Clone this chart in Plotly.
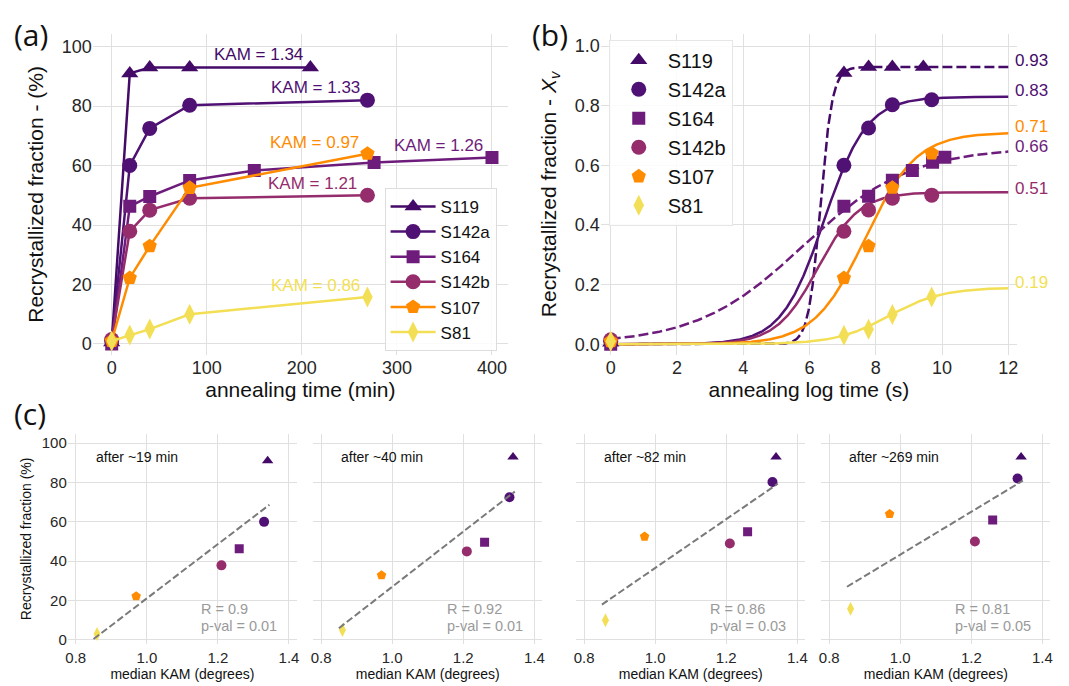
import numpy as np
import plotly.graph_objects as go

# ---------------- data ----------------
SAMPLES = ["S119", "S142a", "S164", "S142b", "S107", "S81"]
COLORS = ["#440a68", "#4f1173", "#6e1c7c", "#952c6c", "#ff8c00", "#f3df55"]
SYMBOLS = ["triangle-up", "circle", "square", "circle", "pentagon", "diamond-tall"]
KAM = [1.34, 1.33, 1.26, 1.21, 0.97, 0.86]
KAM_TEXT = ["1.34", "1.33", "1.26", "1.21", "0.97", "0.86"]

# annealing time (min) and recrystallized fraction (%)
TIME_S119 = [0, 19, 40, 82, 209]
FRAC_S119 = [0.5, 91, 93, 93, 93]
TIME_S142A = [0, 19, 40, 82, 269]
FRAC_S142A = [1, 60, 72.5, 80.3, 82]
TIME_S164 = [0, 19, 40, 82, 150, 276, 400]
FRAC_S164 = [0, 46.3, 49.6, 55, 58.3, 61, 62.7]
TIME_S142B = [0, 19, 40, 82, 269]
FRAC_S142B = [1.5, 37.9, 45, 49, 50]
TIME_S107 = [0, 19, 40, 82, 269]
FRAC_S107 = [1, 22.2, 32.9, 52.5, 64]
TIME_S81 = [0, 19, 40, 82, 269]
FRAC_S81 = [1, 3, 5, 10, 15.8]

TIMES = [TIME_S119, TIME_S142A, TIME_S164, TIME_S142B, TIME_S107, TIME_S81]
FRACS = [FRAC_S119, FRAC_S142A, FRAC_S164, FRAC_S142B, FRAC_S107, FRAC_S81]

# fitted sigmoid parameters (in log time): plateau, steepness, midpoint
FIT_MAX = [0.93, 0.83, 0.66, 0.51, 0.71, 0.19]
FIT_SLOPE = [5.5, 1.55, 0.62, 1.6, 1.3, 1.25]
FIT_MID = [6.33, 6.44, 5.81, 6.25, 7.68, 8.4]
FIT_DASHED = [True, False, True, False, False, False]

# panel (c)
CUT_TIMES = [19, 40, 82, 269]
R_TEXT = ["0.9", "0.92", "0.86", "0.81"]
P_TEXT = ["0.01", "0.01", "0.03", "0.05"]
FIT_LINE_X = [0.85, 1.345]

# ---------------- style / layout ----------------
W, H = 1069, 686
SX, SY = -7, -6
SYC = -5
FONT = "Liberation Sans, Arial, Helvetica, sans-serif"
GRID = "#e0e0e0"
TICKC = "#262626"


def px_x(a, b):
    return [(a + SX) / W, (b + SX) / W]


def px_y(top, bottom, sy=SY):
    return [1 - (bottom + sy) / H, 1 - (top + sy) / H]


fig = go.Figure()

# ---------- panel (a) ----------
for i, s in enumerate(SAMPLES):
    fig.add_trace(go.Scatter(
        x=TIMES[i], y=FRACS[i], mode="lines+markers", name=s,
        line=dict(color=COLORS[i], width=2.5),
        marker=dict(symbol=SYMBOLS[i], size=15 if SYMBOLS[i] != "square" else 13,
                    color=COLORS[i], line=dict(width=0)),
        xaxis="x", yaxis="y", legend="legend",
    ))

KAM_POS = [(154, 97.2), (214, 86.1), (344, 66.6), (211, 53.9), (213, 67.9), (214, 19.7)]
for i, s in enumerate(SAMPLES):
    fig.add_annotation(x=KAM_POS[i][0], y=KAM_POS[i][1], xref="x", yref="y",
                       text=f"KAM = {KAM_TEXT[i]}", showarrow=False,
                       font=dict(size=17, color=COLORS[i], family=FONT))

# ---------- panel (b) ----------
xg = np.linspace(0, 12, 600)
for i, s in enumerate(SAMPLES):
    yfit = FIT_MAX[i] / (1 + np.exp(-FIT_SLOPE[i] * (xg - FIT_MID[i])))
    fig.add_trace(go.Scatter(
        x=xg, y=yfit, mode="lines", showlegend=False,
        line=dict(color=COLORS[i], width=2.5, dash="10px,4px" if FIT_DASHED[i] else "solid"),
        xaxis="x2", yaxis="y2", hoverinfo="skip",
    ))
for i, s in enumerate(SAMPLES):
    t = np.array(TIMES[i], dtype=float)
    logt = np.where(t > 0, np.log(np.where(t > 0, t, 1) * 60.0), 0.0)
    fig.add_trace(go.Scatter(
        x=logt, y=np.array(FRACS[i]) / 100.0, mode="markers", name=s,
        marker=dict(symbol=SYMBOLS[i], size=15 if SYMBOLS[i] != "square" else 13,
                    color=COLORS[i], line=dict(width=0)),
        xaxis="x2", yaxis="y2", legend="legend2",
    ))
LABEL_DY = [0.022, 0.022, 0.004, 0.012, 0.019, 0.016]
for i, s in enumerate(SAMPLES):
    fig.add_annotation(x=12.15, y=FIT_MAX[i] + LABEL_DY[i], xref="x2", yref="y2",
                       text=f"{FIT_MAX[i]:.2f}", showarrow=False, xanchor="left",
                       font=dict(size=17, color=COLORS[i], family=FONT))

# ---------- panel (c) ----------
C_W = 230.0
for k, T in enumerate(CUT_TIMES):
    xa = "x" + str(k + 3)
    ya = "y" + str(k + 3)
    ys = []
    for i, s in enumerate(SAMPLES):
        idx = int(np.argmin(np.abs(np.array(TIMES[i]) - T)))
        ys.append(FRACS[i][idx])
        fig.add_trace(go.Scatter(
            x=[KAM[i]], y=[FRACS[i][idx]], mode="markers", showlegend=False,
            marker=dict(symbol=SYMBOLS[i], size=10 if SYMBOLS[i] != "square" else 9,
                        color=COLORS[i], line=dict(width=0)),
            xaxis=xa, yaxis=ya,
        ))
    slope, icpt = np.polyfit(KAM, ys, 1)
    lx = np.array(FIT_LINE_X)
    fig.add_trace(go.Scatter(
        x=lx, y=slope * lx + icpt, mode="lines", showlegend=False,
        line=dict(color="#7a7a7a", width=2, dash="7px,3px"),
        xaxis=xa, yaxis=ya, hoverinfo="skip",
    ))
    fig.add_annotation(x=0.85, y=92.8, xref=xa, yref=ya, text=f"after ~{T} min",
                       showarrow=False, xanchor="left",
                       font=dict(size=14, color="#111111", family=FONT))
    fig.add_annotation(x=1.148, y=15.9, xref=xa, yref=ya, text=f"R = {R_TEXT[k]}",
                       showarrow=False, xanchor="left",
                       font=dict(size=14.5, color="#9a9a9a", family=FONT))
    fig.add_annotation(x=1.148, y=7.2, xref=xa, yref=ya, text=f"p-val = {P_TEXT[k]}",
                       showarrow=False, xanchor="left",
                       font=dict(size=14.5, color="#9a9a9a", family=FONT))

# panel letters
for txt, x, y in [("(a)", 2, 27), ("(b)", 522, 27), ("(c)", 2, 408)]:
    fig.add_annotation(x=x / W, y=1 - y / H, xref="paper", yref="paper", text=txt,
                       showarrow=False, xanchor="left", yanchor="middle",
                       font=dict(size=30, color="#111111", family="Open Sans, sans-serif"))

axis_common = dict(showgrid=True, gridcolor=GRID, gridwidth=1.2, zeroline=False,
                   showline=False, ticks="", tickfont=dict(size=18, color=TICKC, family=FONT))
c_axis = dict(showgrid=True, gridcolor=GRID, gridwidth=1, zeroline=False,
              showline=False, ticks="", tickfont=dict(size=15, color=TICKC, family=FONT))

layout = dict(
    width=W, height=H, margin=dict(l=0, r=0, t=0, b=0),
    paper_bgcolor="white", plot_bgcolor="white",
    font=dict(family=FONT, color="#111111"),
    xaxis=dict(domain=px_x(90, 507), range=[-20, 417], tickvals=[0, 100, 200, 300, 400],
               title=dict(text="annealing time (min)", font=dict(size=21), standoff=2),
               anchor="y", **axis_common),
    yaxis=dict(domain=px_y(32, 355), range=[-3.7, 104.3], tickvals=[0, 20, 40, 60, 80, 100],
               title=dict(text="Recrystallized fraction - (%)", font=dict(size=21), standoff=12),
               anchor="x", **axis_common),
    xaxis2=dict(domain=px_x(600, 1018), range=[-0.3, 12.27], tickvals=list(range(0, 13, 2)),
                title=dict(text="annealing log time (s)", font=dict(size=21), standoff=2),
                anchor="y2", **axis_common),
    yaxis2=dict(domain=px_y(32, 355), range=[-0.036, 1.041],
                tickvals=[0, 0.2, 0.4, 0.6, 0.8, 1.0], tickformat=".1f",
                title=dict(text="Recrystallized fraction - <i>X<sub>v</sub></i>",
                           font=dict(size=21), standoff=12),
                anchor="x2", **axis_common),
    legend=dict(x=(383 + SX) / W, y=1 - (187 + SY) / H, xanchor="left", yanchor="top",
                bgcolor="rgba(255,255,255,0.85)", bordercolor="#dddddd", borderwidth=1,
                font=dict(size=17, color="#111111", family=FONT), itemwidth=45,
                tracegroupgap=0),
    legend2=dict(x=(608 + SX) / W, y=1 - (38 + SY) / H, xanchor="left", yanchor="top",
                 bgcolor="rgba(255,255,255,0.85)", bordercolor="#e6e6e6", borderwidth=1,
                 font=dict(size=20, color="#111111", family=FONT), itemwidth=48,
                 tracegroupgap=0),
    showlegend=True,
)

c_lefts = [65.0, 311.3, 575.3, 821.3]
for k in range(4):
    xn = "xaxis" + str(k + 3)
    yn = "yaxis" + str(k + 3)
    layout[xn] = dict(domain=px_x(c_lefts[k], c_lefts[k] + C_W), range=[0.7776, 1.4224],
                      tickvals=[0.8, 1.0, 1.2, 1.4], tickformat=".1f", ticklabelstandoff=3,
                      title=dict(text="median KAM (degrees)", font=dict(size=14), standoff=1),
                      anchor="y" + str(k + 3), **c_axis)
    yd = dict(domain=px_y(433, 645, SYC), range=[-2.2, 104.9], tickvals=[0, 20, 40, 60, 80, 100],
              anchor="x" + str(k + 3), showticklabels=(k == 0), **c_axis)
    if k == 0:
        yd["title"] = dict(text="Recrystallized fraction (%)", font=dict(size=14), standoff=6)
    layout[yn] = yd

fig.update_layout(**layout)
fig.write_html("out.html")
